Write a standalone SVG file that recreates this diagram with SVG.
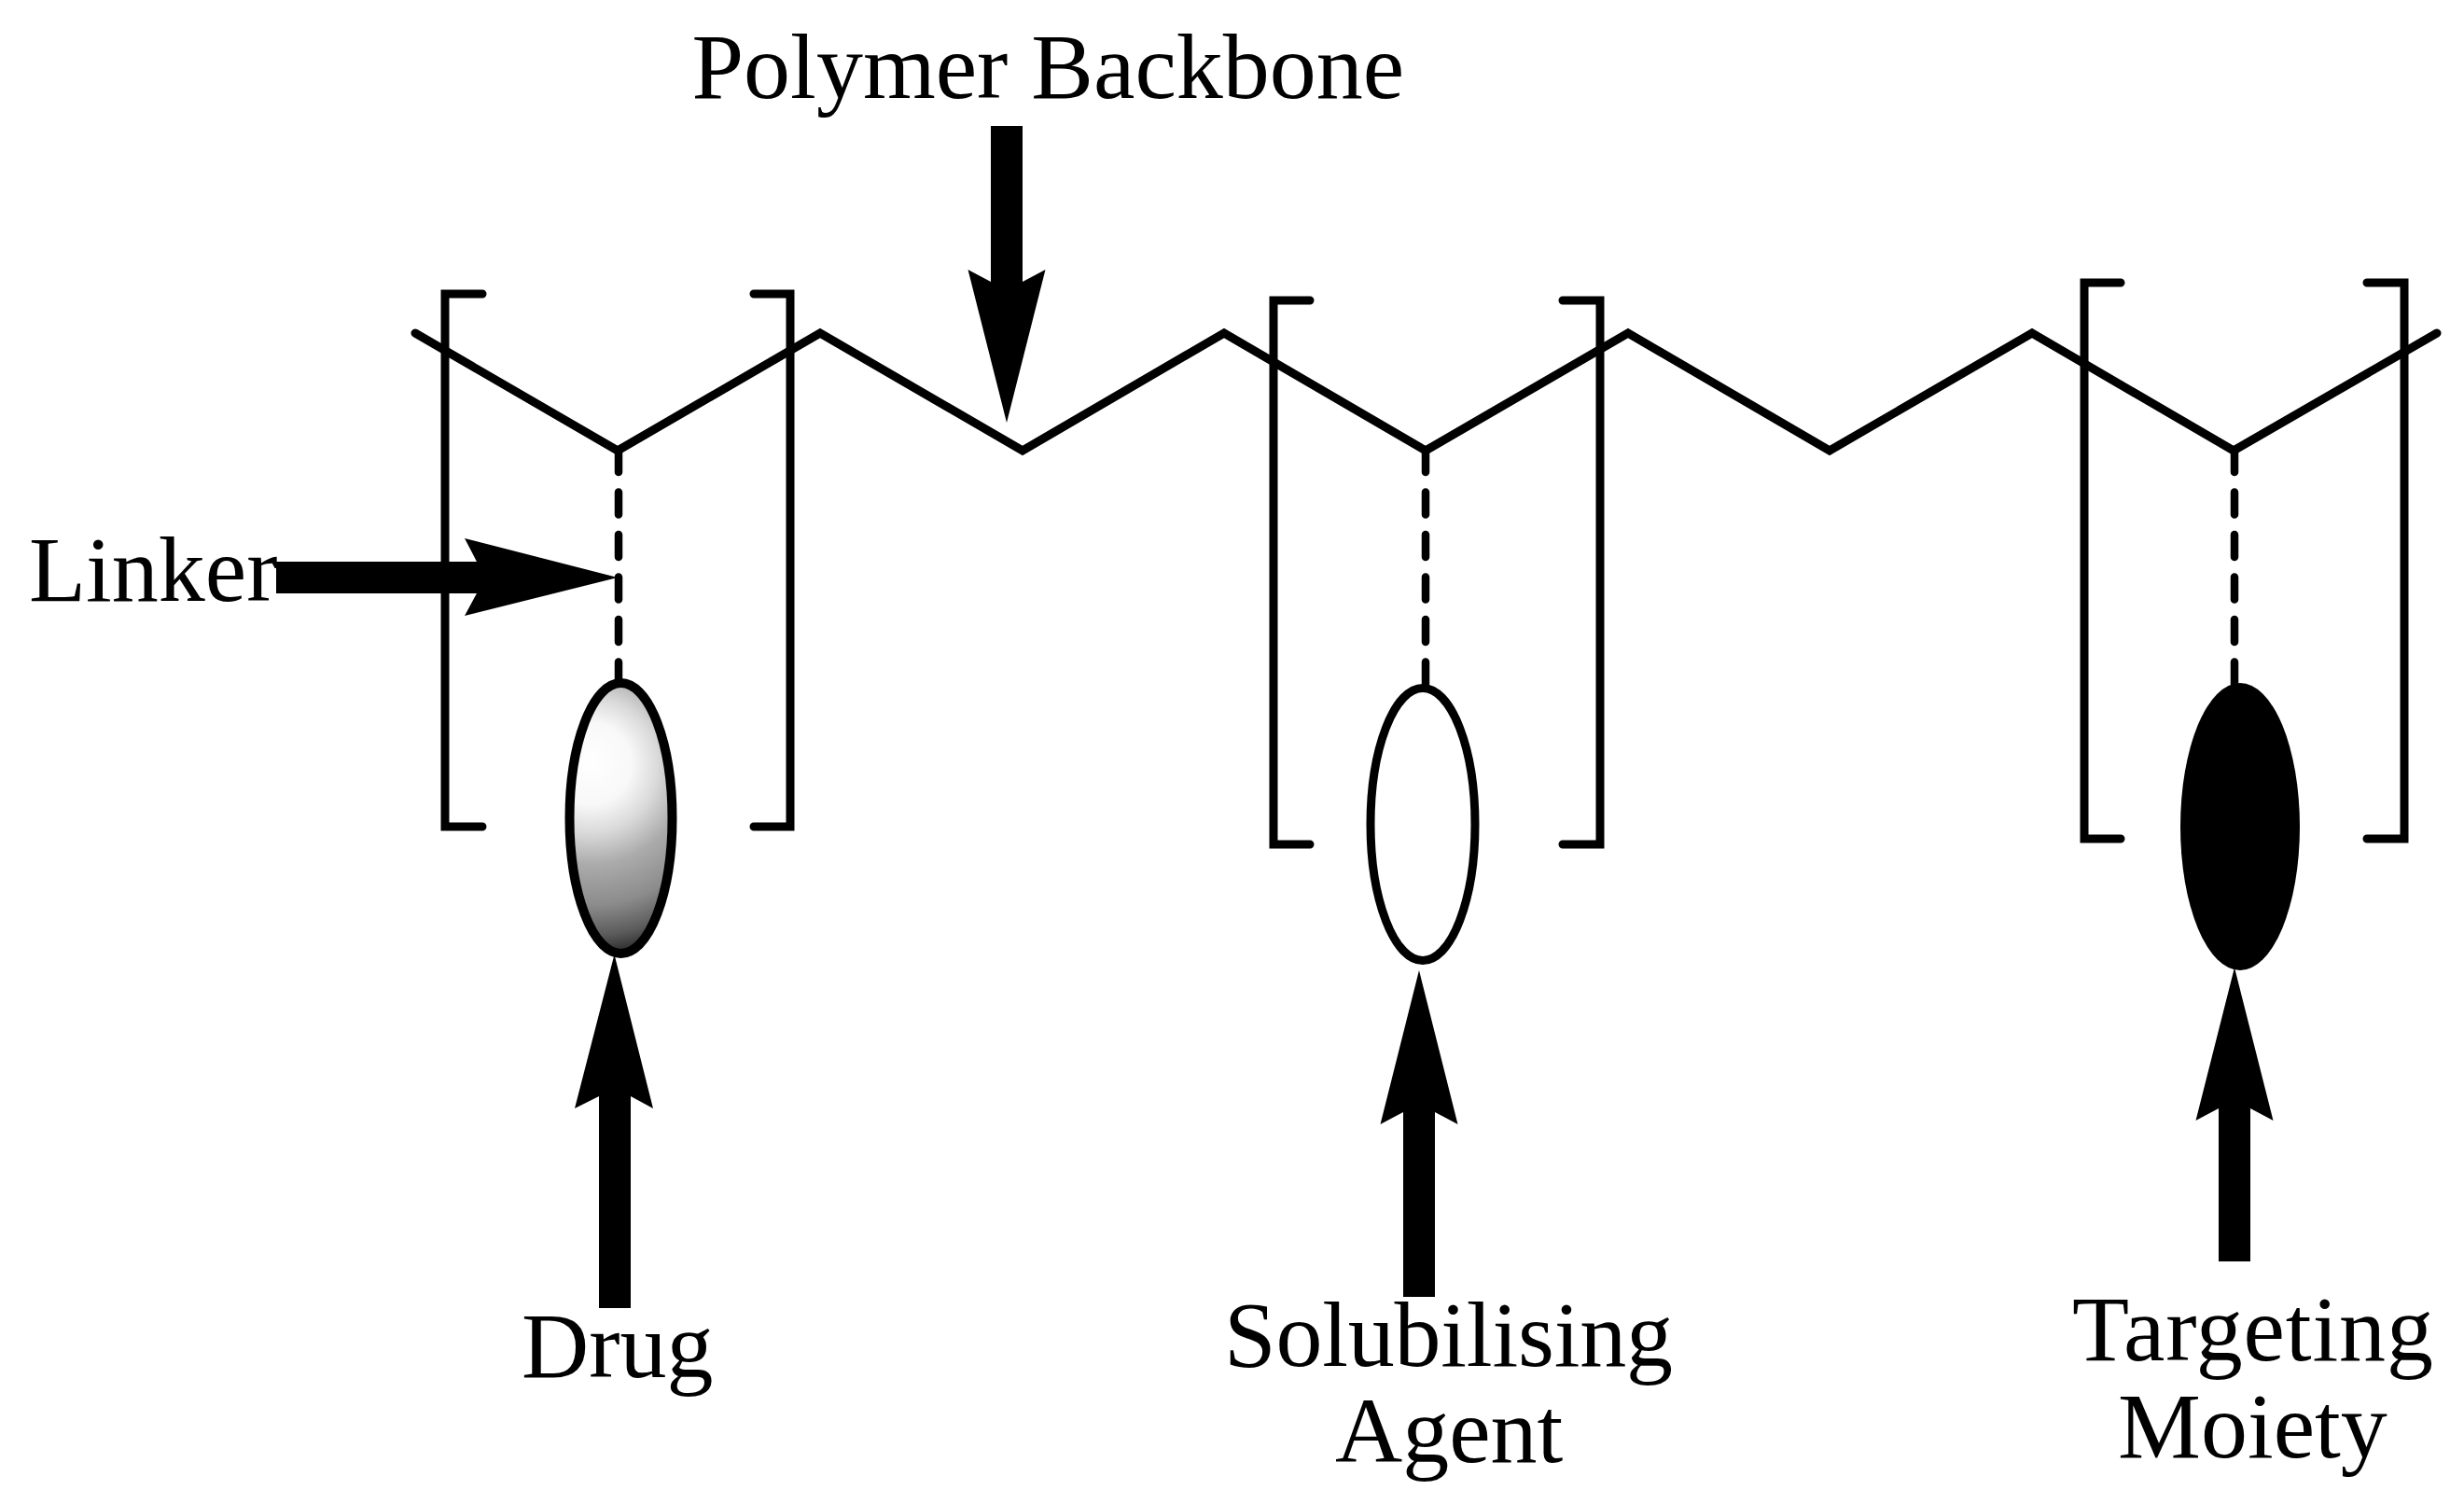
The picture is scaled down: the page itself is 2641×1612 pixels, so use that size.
<svg xmlns="http://www.w3.org/2000/svg" width="2641" height="1612" viewBox="0 0 2641 1612">
<defs>
<style>
.line{fill:none;stroke:#000;stroke-width:9;stroke-linecap:round;stroke-linejoin:miter}
.dash{fill:none;stroke:#000;stroke-width:8.500;stroke-linecap:round;stroke-dasharray:24 21.5}
.arrow{fill:#000;stroke:none}
text{font-family:"Liberation Serif","Times New Roman",serif;font-size:100px;fill:#000}
</style>
<radialGradient id="drugFill" gradientUnits="userSpaceOnUse" cx="633" cy="830" r="200" fx="633" fy="815">
<stop offset="0" stop-color="#fff"/>
<stop offset="0.22" stop-color="#f8f8f8"/>
<stop offset="0.36" stop-color="#dadada"/>
<stop offset="0.52" stop-color="#ababab"/>
<stop offset="0.72" stop-color="#8c8c8c"/>
<stop offset="0.87" stop-color="#5c5c5c"/>
<stop offset="1" stop-color="#1c1c1c"/>
</radialGradient>
</defs>
<rect width="2641" height="1612" fill="#fff"/>
<g id="brackets">
<path class="line" d="M517 315H477V886H517"/>
<path class="line" d="M808 315H847V886H808"/>
<path class="line" d="M1404 322H1365V905H1404"/>
<path class="line" d="M1675 322H1715V905H1675"/>
<path class="line" d="M2273 303H2234V899H2273"/>
<path class="line" d="M2537 303H2577V899H2537"/>
</g>
<g id="label-linker"><text x="31" y="644">Linker</text></g>
<g id="connectors">
<path id="backbone" class="line" d="M445 357L662 483L879 357L1096 483L1312 357L1528 483L1745 357L1961 483L2178 357L2394 483L2612 357"/>
<path class="dash" d="M663 482V733"/>
<path class="dash" d="M1528 482V733"/>
<path class="dash" d="M2395 482V733"/>
<polygon id="arrow-backbone" class="arrow" points="1079,453 1120.500,289 1096,302 1096,135 1062,135 1062,302 1037.500,289"/>
<polygon id="arrow-linker" class="arrow" points="662,619 498,577 511,602 296,602 296,636 511,636 498,660"/>
<polygon id="arrow-drug" class="arrow" points="658.500,1023 700,1188 676,1175 676,1402 642,1402 642,1175 616,1188"/>
<polygon id="arrow-solubilising" class="arrow" points="1521,1040 1562.500,1205 1538,1192 1538,1390 1504,1390 1504,1192 1479.500,1205"/>
<polygon id="arrow-targeting" class="arrow" points="2395,1037 2436.500,1201 2412,1188 2412,1352 2378,1352 2378,1188 2353.500,1201"/>
</g>
<g id="node-drug"><ellipse cx="665.500" cy="877" rx="55" ry="145" fill="url(#drugFill)" stroke="#000" stroke-width="10"/></g>
<g id="node-solubilising"><ellipse cx="1525" cy="883.500" rx="56" ry="146" fill="#fff" stroke="#000" stroke-width="9"/></g>
<g id="node-targeting"><ellipse cx="2401" cy="886" rx="64" ry="154" fill="#000"/></g>
<g id="label-backbone"><text x="741.500" y="104.500">Polymer Backbone</text></g>
<g id="label-drug"><text x="559" y="1476">Drug</text></g>
<g id="label-solubilising"><text x="1312" y="1464" textLength="481">Solubilising</text><text x="1431" y="1567">Agent</text></g>
<g id="label-targeting"><text x="2221" y="1458" textLength="387">Targeting</text><text x="2270" y="1562">Moiety</text></g>
</svg>
